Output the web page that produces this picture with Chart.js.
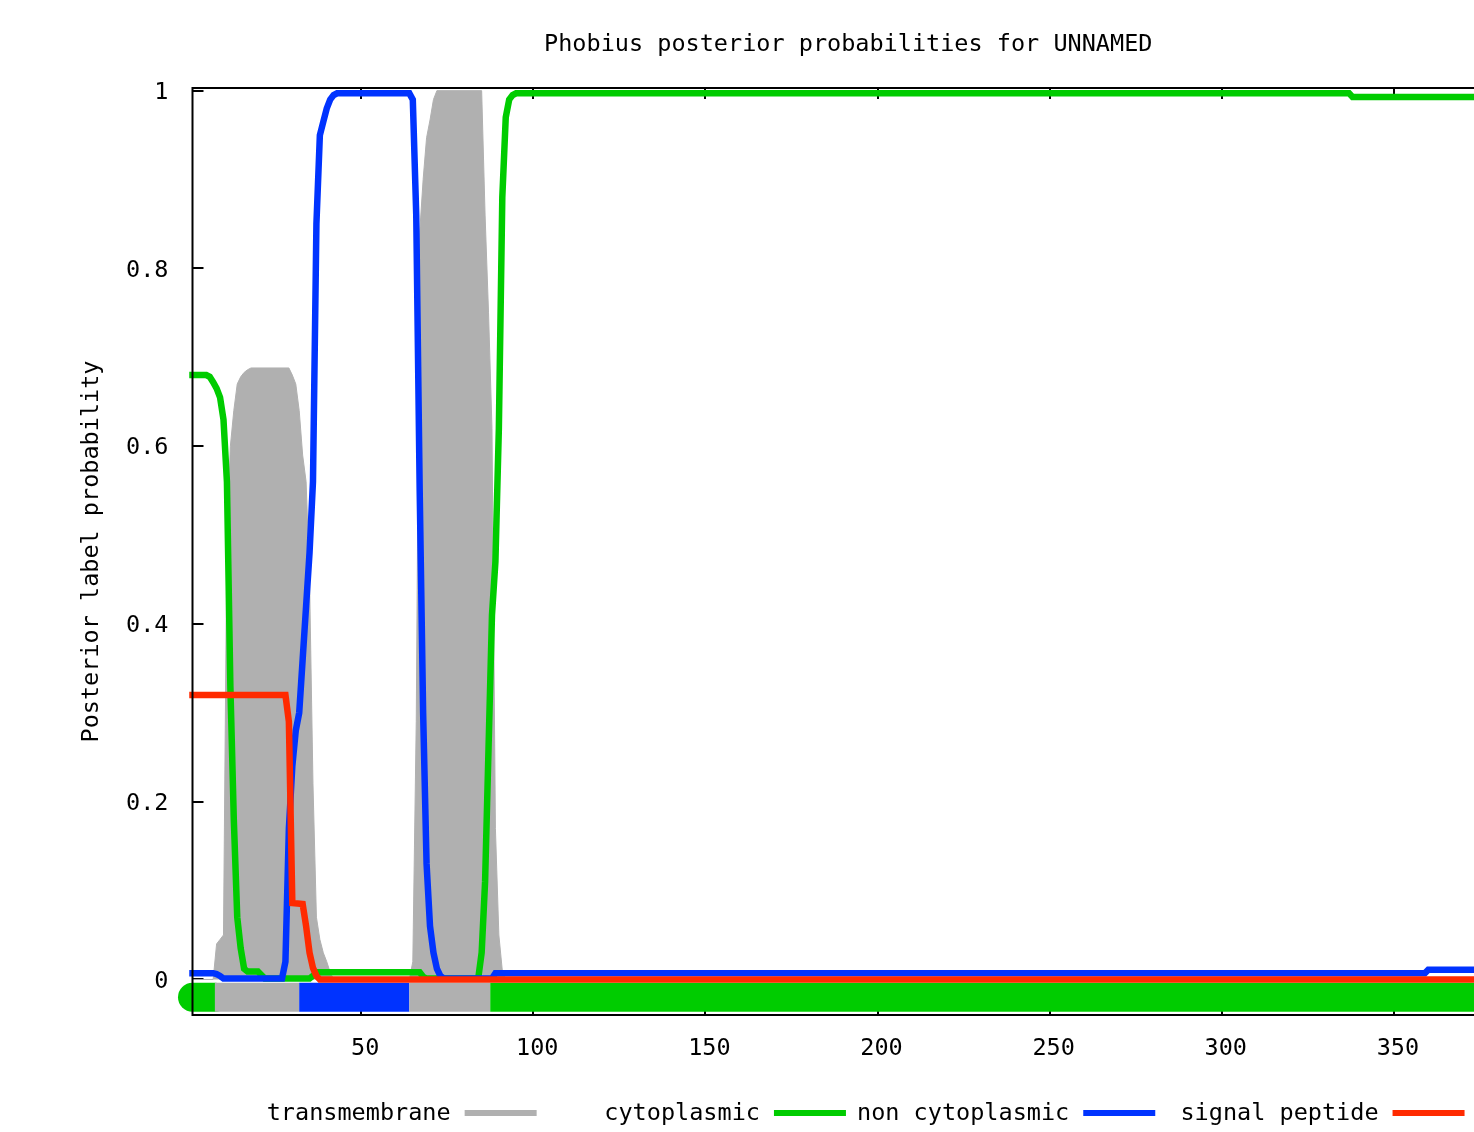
<!DOCTYPE html>
<html><head><meta charset="utf-8">
<script src="https://cdn.jsdelivr.net/npm/chart.js@4/dist/chart.umd.min.js"></script>
<style>
html,body{margin:0;padding:0;background:#fff;overflow:hidden;width:1474px;height:1132px;}
canvas{display:block;}
</style></head><body>
<canvas id="c" width="1560" height="1132"></canvas>
<script>
// ---- data ----
const chartTitle = 'Phobius posterior probabilities for UNNAMED';
const yAxisTitle = 'Posterior label probability';
const seqStart = 1;
const seqLength = 382;
const seriesNames = ['transmembrane', 'cytoplasmic', 'non cytoplasmic', 'signal peptide'];

// transmembrane posterior (residue, probability)
const tmX = [1, 7, 8, 9, 10, 11, 12, 13, 14, 15, 16, 17, 18, 29, 30, 31, 32, 33, 34, 35, 36, 37, 38, 39, 40, 41, 42, 64, 65, 66, 67, 68, 69, 70, 71, 72, 85, 86, 87, 88, 89, 90, 91, 92, 382];
const tmY = [0, 0, 0.04, 0.045, 0.05, 0.5, 0.6, 0.64, 0.67, 0.678, 0.683, 0.686, 0.688, 0.688, 0.68, 0.67, 0.64, 0.59, 0.56, 0.45, 0.22, 0.07, 0.045, 0.03, 0.02, 0.008, 0, 0, 0.02, 0.29, 0.84, 0.9, 0.947, 0.967, 0.99, 1.0, 1.0, 0.86, 0.75, 0.62, 0.17, 0.05, 0.01, 0, 0];

// cytoplasmic posterior
const cytoX = [1, 5, 6, 7, 8, 9, 10, 11, 12, 13, 14, 15, 16, 17, 20, 21, 22, 35, 36, 37, 67, 68, 69, 84, 85, 86, 87, 88, 89, 90, 91, 92, 93, 94, 95, 337, 338, 382];
const cytoY = [0.68, 0.68, 0.678, 0.672, 0.665, 0.655, 0.63, 0.56, 0.33, 0.18, 0.07, 0.035, 0.012, 0.009, 0.009, 0.005, 0.001, 0.001, 0.004, 0.008, 0.008, 0.003, 0.001, 0.001, 0.03, 0.11, 0.26, 0.41, 0.47, 0.62, 0.88, 0.97, 0.99, 0.995, 0.997, 0.997, 0.993, 0.993];

// non cytoplasmic posterior
const nonCytoX = [1, 7, 8, 9, 10, 27, 28, 29, 30, 31, 32, 33, 34, 35, 36, 37, 38, 39, 40, 41, 42, 43, 64, 65, 66, 67, 68, 69, 70, 71, 72, 73, 74, 88, 89, 359, 360, 382];
const nonCytoY = [0.007, 0.007, 0.006, 0.004, 0.001, 0.001, 0.02, 0.17, 0.24, 0.28, 0.30, 0.36, 0.42, 0.48, 0.56, 0.85, 0.95, 0.965, 0.98, 0.99, 0.995, 0.997, 0.997, 0.99, 0.86, 0.55, 0.3, 0.13, 0.06, 0.03, 0.012, 0.004, 0.001, 0.001, 0.007, 0.007, 0.011, 0.011];

// signal peptide posterior
const signalX = [1, 28, 29, 30, 33, 34, 35, 36, 37, 38, 382];
const signalY = [0.32, 0.32, 0.29, 0.086, 0.085, 0.06, 0.03, 0.013, 0.004, 0, 0];

// predicted topology track
const topoStart = [1, 7.5, 32, 64, 87.5];
const topoEnd = [7.5, 32, 64, 87.5, 382];
const topoLabel = ['cytoplasmic', 'transmembrane', 'non cytoplasmic', 'transmembrane', 'cytoplasmic'];
const topoLevel = -0.02;

// axis ranges / ticks
const yMin = -0.04, yMax = 1.003, yStep = 0.2;
const xStep = 50;

// ---- styles ----
const colors = {
  'transmembrane': '#b0b0b0',
  'cytoplasmic': '#00cc00',
  'non cytoplasmic': '#0033ff',
  'signal peptide': '#ff2a00'
};
const FONT = "'DejaVu Sans Mono', 'Liberation Mono', monospace";
const FSIZE = 23.5;

const pts = (xs, ys) => xs.map((x, i) => ({x: x, y: ys[i]}));

const datasets = [];
datasets.push({label: 'signal peptide', data: pts(signalX, signalY), borderColor: colors['signal peptide'], borderWidth: 6.5, borderCapStyle: 'square', pointRadius: 0, order: 0, clip: 8});
datasets.push({label: 'non cytoplasmic', data: pts(nonCytoX, nonCytoY), borderColor: colors['non cytoplasmic'], borderWidth: 6.5, borderCapStyle: 'square', pointRadius: 0, order: 1, clip: 8});
datasets.push({label: 'cytoplasmic', data: pts(cytoX, cytoY), borderColor: colors['cytoplasmic'], borderWidth: 6.5, borderCapStyle: 'square', pointRadius: 0, order: 2, clip: 8});
datasets.push({label: 'transmembrane', data: pts(tmX, tmY), borderColor: colors['transmembrane'], backgroundColor: colors['transmembrane'], borderWidth: 1, fill: 'origin', pointRadius: 0, order: 3, clip: 4});
topoLabel.forEach((lab, i) => {
  datasets.push({
    label: 'topology ' + lab,
    data: [{x: topoStart[i], y: topoLevel}, {x: topoEnd[i], y: topoLevel}],
    borderColor: colors[lab], borderWidth: 29,
    borderCapStyle: i === 0 ? 'round' : 'butt',
    pointRadius: 0, order: 9 - i, clip: {left: 20, top: 0, right: 0, bottom: 0}
  });
});

const decorPlugin = {
  id: 'decor',
  beforeDatasetsDraw(chart) {
    const {ctx, chartArea: a, scales: {x, y}} = chart;
    ctx.save();
    ctx.strokeStyle = '#000';
    ctx.lineWidth = 2;
    ctx.beginPath();
    y.ticks.forEach(t => {
      const p = Math.round(y.getPixelForValue(t.value));
      ctx.moveTo(a.left, p); ctx.lineTo(a.left + 11, p);
      ctx.moveTo(a.right, p); ctx.lineTo(a.right - 11, p);
    });
    x.ticks.forEach(t => {
      const p = Math.round(x.getPixelForValue(t.value));
      ctx.moveTo(p, a.bottom); ctx.lineTo(p, a.bottom - 11);
      ctx.moveTo(p, a.top); ctx.lineTo(p, a.top + 11);
    });
    ctx.stroke();
    ctx.restore();
  },
  afterDatasetsDraw(chart) {
    const {ctx, chartArea: a} = chart;
    ctx.save();
    ctx.strokeStyle = '#000';
    ctx.lineWidth = 2;
    ctx.strokeRect(a.left, a.top, a.right - a.left, a.bottom - a.top);
    ctx.restore();
  },
  afterDraw(chart) {
    const {ctx, chartArea: a} = chart;
    const cx = (a.left + a.right) / 2;
    const ly = 1114;
    ctx.save();
    ctx.font = FSIZE + 'px ' + FONT;
    ctx.textAlign = 'right';
    ctx.textBaseline = 'middle';
    seriesNames.forEach((name, i) => {
      const tr = cx - 397.6 + i * 309.3;
      ctx.fillStyle = '#000';
      ctx.fillText(name, tr, ly);
      ctx.strokeStyle = colors[name];
      ctx.lineWidth = 6;
      ctx.beginPath();
      ctx.moveTo(tr + 14, ly - 1);
      ctx.lineTo(tr + 86, ly - 1);
      ctx.stroke();
    });
    ctx.restore();
  }
};

new Chart(document.getElementById('c'), {
  type: 'line',
  data: {datasets: datasets},
  options: {
    responsive: false,
    animation: false,
    devicePixelRatio: 1,
    events: [],
    layout: {padding: {top: 0, left: 0, right: 56, bottom: 0}},
    plugins: {
      legend: {display: false},
      tooltip: {enabled: false},
      title: {
        display: true, text: chartTitle, fullSize: false, color: '#000',
        font: {family: FONT, size: FSIZE, weight: 'normal', lineHeight: 1},
        padding: {top: 33, bottom: 31.5}
      }
    },
    scales: {
      x: {
        type: 'linear', min: seqStart, max: seqLength,
        afterFit(s) { s.height = 117; },
        grid: {display: false}, border: {display: false},
        ticks: {stepSize: xStep, includeBounds: false, color: '#000', padding: 14, labelOffset: 4, maxRotation: 0,
          font: {family: FONT, size: FSIZE, lineHeight: 1}}
      },
      y: {
        type: 'linear', min: yMin, max: yMax,
        afterFit(s) { s.width = 192.5; },
        grid: {display: false}, border: {display: false},
        ticks: {stepSize: yStep, includeBounds: false, color: '#000', padding: 16, labelOffset: 2,
          font: {family: FONT, size: FSIZE, lineHeight: 1},
          callback: v => String(parseFloat(Number(v).toFixed(2)))},
        title: {display: true, text: yAxisTitle, color: '#000',
          font: {family: FONT, size: FSIZE, lineHeight: 1}, padding: {top: 80, bottom: 0}}
      }
    }
  },
  plugins: [decorPlugin]
});
</script>
</body></html>
